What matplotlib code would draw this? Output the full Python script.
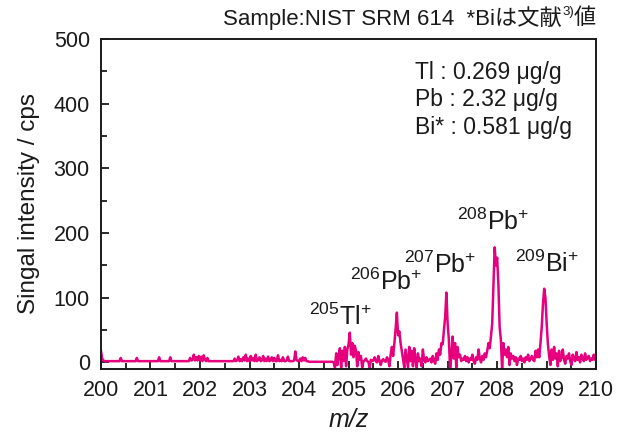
import numpy as np
import matplotlib
matplotlib.use("Agg")
import matplotlib.pyplot as plt
from matplotlib.ticker import MultipleLocator

plt.rcParams['font.family'] = ['Liberation Sans', 'Noto Sans CJK JP', 'DejaVu Sans']
plt.rcParams['mathtext.fontset'] = 'custom'
plt.rcParams['mathtext.rm'] = 'Liberation Sans'
plt.rcParams['mathtext.it'] = 'Liberation Sans:italic'

# m/z axis, 0.025 step from 200 to 210
mz_start, mz_step = 200.0, 0.025

# intensity (cps), one row per m/z unit (40 points each)
intensity = [
    18, 6, 3, 2, 2, 2, 2, 2, 2, 2, 2, 2, 2, 2, 2, 2, 7, 2, 2, 2,
    2, 2, 2, 2, 2, 2, 2, 2, 2, 7, 2, 2, 2, 2, 2, 2, 2, 2, 2, 2,          # 200
    2, 2, 2, 2, 2, 2, 2, 8, 2, 2, 2, 2, 2, 2, 2, 2, 8, 2, 2, 2,
    2, 2, 2, 2, 2, 2, 2, 2, 2, 2, 2, 2, 7, 3, 4, 12, 3, 8, 3, 10,        # 201
    3, 9, 2, 11, 4, 2, 7, 2, 2, 2, 2, 2, 2, 2, 2, 2, 2, 2, 2, 2,
    2, 2, 2, 2, 2, 2, 2, 2, 6, 2, 3, 9, 2, 5, 2, 8, 3, 12, 2, 6,         # 202
    2, 10, 3, 7, 2, 12, 2, 4, 8, 2, 3, 10, 2, 6, 2, 9, 2, 3, 8, 2,
    7, 2, 2, 11, 2, 4, 2, 8, 2, 2, 3, 9, 2, 2, 2, 2, 3, 17, 4, 2,        # 203
    2, 6, 2, 8, 3, 7, 2, 2, 1, 1, 1, 1, 1, 1, 1, 1, 1, 1, 1, 1,
    1, 1, 1, 1, 1, 1, 1, 1, 0, -8, 14, -4, 12, 22, -8, 18, 2, 24, -6, 20,   # 204
    28, 46, 12, 30, 8, 26, 18, -6, 16, 4, 10, -8, 2, 3, 6, 2, 1, -8, 4, 2,
    3, 8, 2, 0, 10, 2, -4, 3, 5, 2, 1, 8, 4, -6, 12, 24, 10, 30, 52, 77,    # 205
    42, 48, 30, 18, 5, -8, 20, 6, -8, 24, 2, 18, -6, 22, 4, -8, 14, 2, 6, -6,
    20, 4, 0, 8, 2, 4, 6, 0, 10, 2, -2, 14, 4, 20, 12, 30, 28, 50, 70, 108, # 206
    60, 35, -10, 10, 40, 6, 30, -8, 24, 8, 12, 2, 6, 4, 10, 2, 8, 0, 6, 4,
    12, 2, -2, 8, 4, 20, 6, 0, 10, 4, 14, 8, 18, 30, 22, 40, 60, 120, 178, 150,  # 207
    162, 120, 55, 35, -10, 30, 12, 20, 8, 24, -4, 14, 6, 10, 2, 8, -4, 6, 4, 10,
    2, 6, 0, 8, 4, 12, 2, 6, 10, 4, 2, 18, 8, 20, 8, 30, 55, 90, 114, 100,  # 208
    60, 28, 10, -4, 20, 4, 24, 6, 14, -6, 18, 2, 8, 20, 4, -2, 10, 6, 14, 2,
    -4, 12, 6, 2, 16, 4, 8, 0, 12, 6, 2, 14, 4, 8, 10, 2, 6, 4, 12, 4,     # 209
    4,                                                                    # 210
]
mz = mz_start + mz_step * np.arange(len(intensity))

ion_labels = [r"$^{205}$Tl$^{+}$", r"$^{206}$Pb$^{+}$", r"$^{207}$Pb$^{+}$",
              r"$^{208}$Pb$^{+}$", r"$^{209}$Bi$^{+}$"]
ion_x = [204.83, 205.76, 206.85, 207.92, 209.0]
ion_y = [58, 112, 138, 205, 140]

conc_lines = ["Tl : 0.269 μg/g", "Pb : 2.32 μg/g", "Bi* : 0.581 μg/g"]

ink = '#1a1a1a'

fig = plt.figure(figsize=(6.23, 4.34), dpi=100)
ax = fig.add_axes([0.162, 0.150, 0.795, 0.760])

ax.plot(mz, intensity, color='#E6007E', lw=1.8)

ax.set_xlim(200, 210)
ax.set_ylim(-10, 500)
ax.xaxis.set_major_locator(MultipleLocator(1))
ax.xaxis.set_minor_locator(MultipleLocator(0.5))
ax.yaxis.set_major_locator(MultipleLocator(100))
ax.yaxis.set_minor_locator(MultipleLocator(50))
ax.tick_params(which='both', direction='in', width=1.3, labelsize=15.5, colors=ink)
ax.tick_params(which='major', length=6, pad=8)
ax.tick_params(which='minor', length=4)
for s in ax.spines.values():
    s.set_linewidth(1.4)
    s.set_color(ink)

ax.set_ylabel("Singal intensity / cps", fontsize=17.5, color=ink, labelpad=10)
ax.set_xlabel("m/z", fontsize=18, style='italic', color=ink, labelpad=5)

for lab, xx, yy in zip(ion_labels, ion_x, ion_y):
    ax.text(xx, yy, lab, ha='center', va='baseline', fontsize=18, color=ink)

for i, line in enumerate(conc_lines):
    ax.text(0.635, 0.9 - i * 0.084, line, transform=ax.transAxes,
            ha='left', va='center', fontsize=16.5, color=ink)

# title, pieced together so the superscript "3)" can be smaller
renderer = fig.canvas.get_renderer()
t_end = fig.text(0.957, 0.958, "値", ha='right', va='center', fontsize=16, color=ink)
x_end = t_end.get_window_extent(renderer).x0 / fig.bbox.width
t_sup = fig.text(x_end, 0.973, "3)", ha='right', va='center', fontsize=9.5, color=ink)
x_sup = t_sup.get_window_extent(renderer).x0 / fig.bbox.width
fig.text(x_sup, 0.958, "Sample:NIST SRM 614  *Biは文献", ha='right', va='center',
         fontsize=16, color=ink)

fig.savefig("out.png", dpi=100)
